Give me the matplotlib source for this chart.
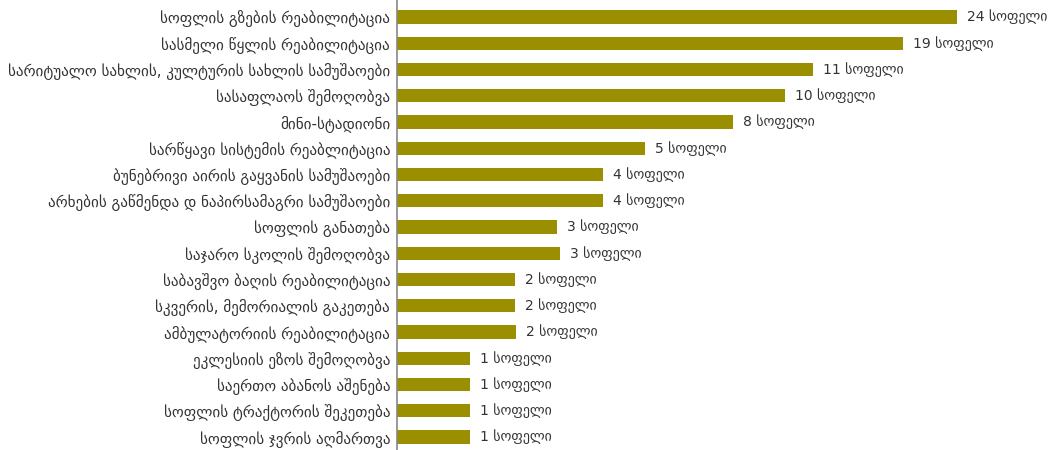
import matplotlib
matplotlib.use("Agg")
import matplotlib.pyplot as plt

categories = [
    "სოფლის გზების რეაბილიტაცია",
    "სასმელი წყლის რეაბილიტაცია",
    "სარიტუალო სახლის, კულტურის სახლის სამუშაოები",
    "სასაფლაოს შემოღობვა",
    "მინი-სტადიონი",
    "სარწყავი სისტემის რეაბლიტაცია",
    "ბუნებრივი აირის გაყვანის სამუშაოები",
    "არხების გაწმენდა დ ნაპირსამაგრი სამუშაოები",
    "სოფლის განათება",
    "საჯარო სკოლის შემოღობვა",
    "საბავშვო ბაღის რეაბილიტაცია",
    "სკვერის, მემორიალის გაკეთება",
    "ამბულატორიის რეაბილიტაცია",
    "ეკლესიის ეზოს შემოღობვა",
    "საერთო აბანოს აშენება",
    "სოფლის ტრაქტორის შეკეთება",
    "სოფლის ჯვრის აღმართვა",
]
village_counts = [24, 19, 11, 10, 8, 5, 4, 4, 3, 3, 2, 2, 2, 1, 1, 1, 1]
# bar lengths as drawn in the reference (relative scale, longest = 100)
bar_sizes = [100, 90.4, 74.3, 69.3, 60, 44.3, 36.8, 36.8, 28.6, 29.1,
             21.1, 21.1, 21.3, 13, 13, 13, 13]
unit = "სოფელი"

fig = plt.figure(figsize=(10.59, 4.5), dpi=100)
ax = fig.add_axes([397/1059, 0, 1 - 397/1059, 1])
ys = list(range(len(categories)))
ax.barh(ys, bar_sizes, height=0.5, color="#998f00")
ax.set_ylim(16.495, -0.648)
ax.set_xlim(0, 118.2)
ax.set_yticks(ys)
ax.set_yticklabels(categories, fontsize=10.9, color="#333333")
ax.tick_params(axis="y", length=0, pad=5)
ax.set_xticks([])
for s in ["top", "right", "bottom"]:
    ax.spines[s].set_visible(False)
ax.spines["left"].set_color("#888888")
ax.spines["left"].set_linewidth(1.2)
for y, v, c in zip(ys, bar_sizes, village_counts):
    ax.annotate(f"{c} {unit}", (v, y), xytext=(7, 0), textcoords="offset points",
                va="center", ha="left", fontsize=10, color="#333333")
fig.savefig("out.png", dpi=100)
